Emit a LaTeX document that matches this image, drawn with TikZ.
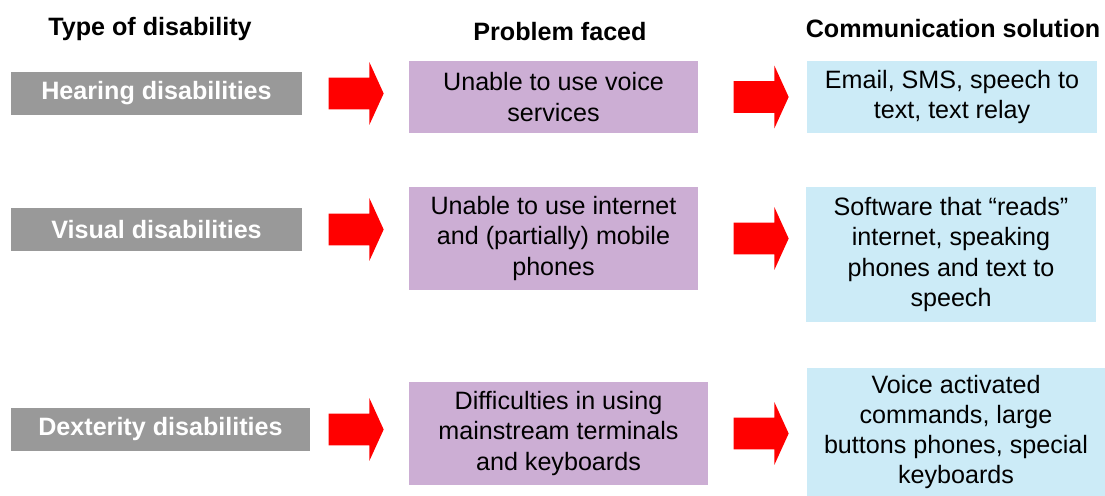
\documentclass[tikz,border=0pt]{standalone}
\usepackage{fontspec}
\setmainfont{Liberation Sans}
\usepackage{tikz}
\usetikzlibrary{shapes.arrows, positioning}
\definecolor{typegray}{RGB}{153, 153, 153}
\definecolor{problempurple}{RGB}{204, 174, 212}
\definecolor{solutionblue}{RGB}{204, 235, 247}
\definecolor{arrowred}{RGB}{255, 0, 0}
\newcommand{\boxfont}{\fontsize{14.3}{17.2}\selectfont}
\tikzstyle{header} = [anchor=base, inner sep=0pt, font=\boxfont\bfseries]
\tikzstyle{typebox} = [rectangle, fill=typegray, text=white, minimum width=5.82cm, minimum height=0.86cm, inner sep=0pt, font=\boxfont\bfseries]
\tikzstyle{problembox} = [rectangle, fill=problempurple, minimum width=5.78cm, inner sep=0pt, align=center, font=\boxfont]
\tikzstyle{solutionbox} = [rectangle, fill=solutionblue, minimum width=5.8cm, inner sep=0pt, align=center, font=\boxfont]
\tikzstyle{bigarrow} = [single arrow, fill=arrowred, draw=none, minimum height=1.1cm, inner xsep=0pt, inner ysep=0.31cm, single arrow head extend=0.31cm, single arrow tip angle=131]
\begin{document}
\begin{tikzpicture}[x=0.02cm, y=-0.02cm]
    \useasboundingbox (0,0) rectangle (1105,496);
    % Headers
    \node (typehead) [header] at (150,36) {Type of disability};
    \node (problemhead) [header] at (560,41) {Problem faced};
    \node (solutionhead) [header] at (953,38) {Communication solution};

    % Nodes
    \node (hearing) [typebox] at (156.5,93.5) {Hearing disabilities};
    \node (visual) [typebox] at (156.5,229.5) {Visual disabilities};
    \node (dexterity) [typebox, minimum width=5.98cm] at (160.5,429.5) {Dexterity disabilities};
    \node (hearingprob) [problembox, minimum height=1.44cm] at (553.5,97) {Unable to use voice\\services};
    \node (visualprob) [problembox, minimum height=2.06cm] at (553.5,238.5) {Unable to use internet\\and (partially) mobile\\phones};
    \node (dexterityprob) [problembox, minimum width=5.98cm, minimum height=2.06cm] at (558.5,433.5) {Difficulties in using\\mainstream terminals\\and keyboards};
    \node (hearingsol) [solutionbox, minimum height=1.44cm] at (952,97) {Email, SMS, speech to\\text, text relay};
    \node (visualsol) [solutionbox, minimum height=2.7cm] at (951,254.5) {Software that “reads”\\internet, speaking\\phones and text to\\speech};
    \node (dexteritysol) [solutionbox, minimum width=5.96cm, minimum height=2.56cm] at (956,432) {Voice activated\\commands, large\\buttons phones, special\\keyboards};

    % Arrows
    \node (hearingarrow) [bigarrow, right=0.52cm of hearing] {};
    \node (visualarrow) [bigarrow, right=0.52cm of visual] {};
    \node (dexterityarrow) [bigarrow, right=0.36cm of dexterity] {};
    \node (hearingarrowb) [bigarrow, right=0.7cm of hearingprob] {};
    \node (visualarrowb) [bigarrow, right=0.7cm of visualprob] {};
    \node (dexterityarrowb) [bigarrow, right=0.5cm of dexterityprob] {};
\end{tikzpicture}
\end{document}
